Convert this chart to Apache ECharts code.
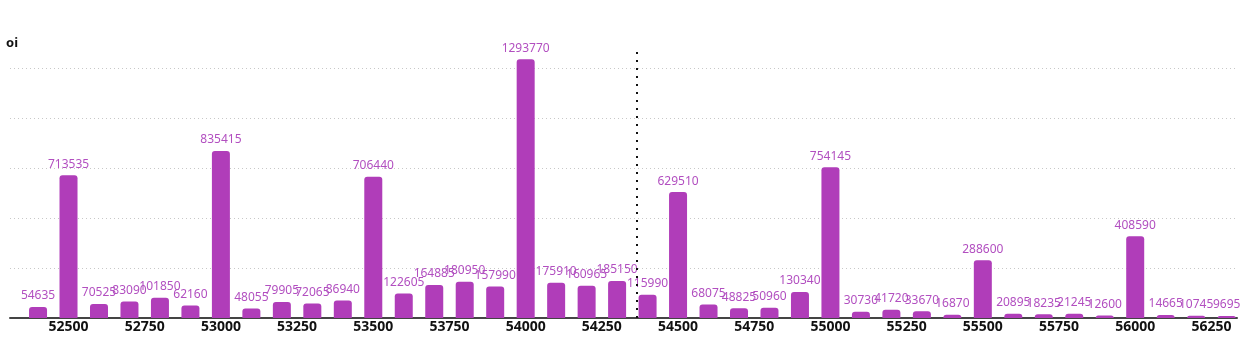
<!DOCTYPE html>
<html>
<head>
<meta charset="utf-8">
<style>
html,body{margin:0;padding:0;background:#fff;}
#chart{width:1252px;height:338px;}
</style>
<script src="https://cdn.jsdelivr.net/npm/echarts@6/dist/echarts.min.js"></script>
</head>
<body>
<div id="chart"></div>
<script>
const strikes = [52400,52500,52600,52700,52800,52900,53000,53100,53200,53300,53400,53500,53600,53700,53800,53900,54000,54100,54200,54300,54400,54500,54600,54700,54800,54900,55000,55100,55200,55300,55400,55500,55600,55700,55800,55900,56000,56100,56200,56300];
const oi = [54635,713535,70525,83090,101850,62160,835415,48055,79905,72065,86940,706440,122605,164885,180950,157990,1293770,175910,160965,185150,115990,629510,68075,48825,50960,130340,754145,30730,41720,33670,16870,288600,20895,18235,21245,12600,408590,14665,10745,9695];
const xTickLabels = [52500,52750,53000,53250,53500,53750,54000,54250,54500,54750,55000,55250,55500,55750,56000,56250];
const spotMarker = 54365;

const chart = echarts.init(document.getElementById('chart'), null, {renderer:'canvas'});
chart.setOption({
  animation: false,
  grid: {left: 10, right: 15, top: 47, bottom: 20},
  xAxis: {
    type: 'value',
    min: 52308,
    max: 56334,
    axisLine: {show: true, onZero: false, lineStyle: {color: '#444', width: 2}},
    axisTick: {show: false},
    splitLine: {show: false},
    axisLabel: {
      customValues: xTickLabels,
      formatter: v => String(v),
      fontFamily: 'Noto Sans',
      fontWeight: 'bold',
      fontSize: 14,
      color: '#111',
      margin: 2
    }
  },
  yAxis: {
    type: 'value',
    min: 0,
    max: 1355000,
    interval: 250000,
    name: 'oi',
    nameLocation: 'end',
    nameGap: -3,
    nameTextStyle: {fontFamily: 'Noto Sans', fontWeight: 'bold', fontSize: 13, color: '#111', align: 'left', padding: [0,0,0,-4]},
    axisLine: {show: false},
    axisTick: {show: false},
    axisLabel: {show: false},
    splitLine: {show: true, showMaxLine: false, showMinLine: false, lineStyle: {color: '#c8c8c8', type: [1, 3], width: 1}}
  },
  series: [{
    type: 'bar',
    data: strikes.map((s, i) => [s, oi[i]]),
    barWidth: 18,
    itemStyle: {color: '#B03DB9', borderRadius: [3,3,0,0]},
    label: {
      show: true,
      position: 'top',
      distance: 5,
      color: '#B24FC0',
      fontFamily: 'Noto Sans',
      fontSize: 12,
      formatter: p => String(p.value[1])
    },
    markLine: {
      silent: true,
      symbol: ['none','none'],
      label: {show: false},
      lineStyle: {color: '#111', type: [2, 6], width: 2},
      data: [{xAxis: spotMarker}]
    }
  }]
});
</script>
</body>
</html>
